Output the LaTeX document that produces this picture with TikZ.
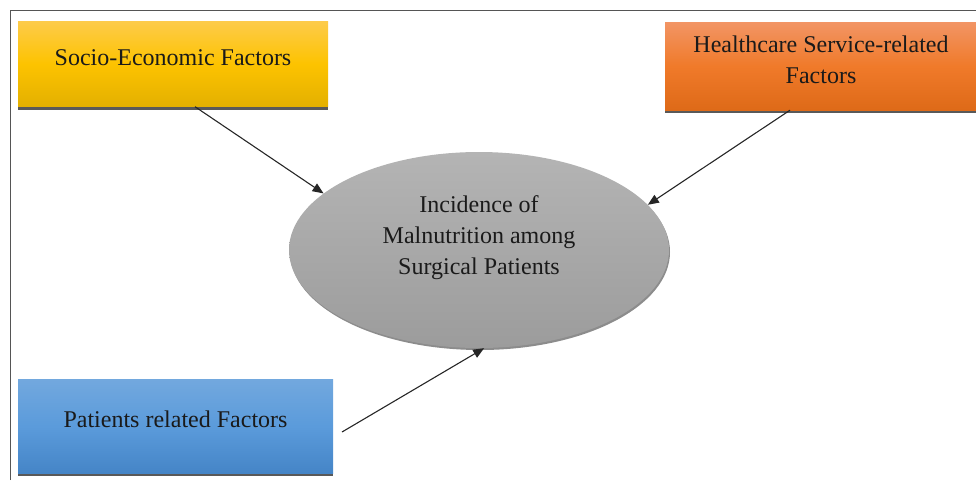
\documentclass[tikz,border=0pt]{standalone}
\usepackage{fontspec}
\setmainfont{Liberation Serif}
\usetikzlibrary{shadows,arrows.meta,shapes.geometric}
\definecolor{ytop}{HTML}{FDCB4A}
\definecolor{ymid}{HTML}{FDC300}
\definecolor{ybot}{HTML}{E3B000}
\definecolor{otop}{HTML}{F29565}
\definecolor{omid}{HTML}{F07A2A}
\definecolor{obot}{HTML}{DE6A18}
\definecolor{btop}{HTML}{72A8DE}
\definecolor{bmid}{HTML}{5B9BDB}
\definecolor{bbot}{HTML}{4585C7}
\definecolor{etop}{HTML}{B4B4B4}
\definecolor{ebot}{HTML}{9C9C9C}
\definecolor{txt}{HTML}{1A1A1A}
\definecolor{frame}{HTML}{555555}
\begin{document}
\begin{tikzpicture}[x=1pt,y=-1pt,
  box/.style={rectangle, inner sep=0pt, align=center, text=txt,
    font=\fontsize{24}{31}\selectfont, text depth=13pt,
    drop shadow={shadow xshift=0pt, shadow yshift=-3pt, fill=black!65, opacity=1}},
  conn/.style={draw=black!85, line width=1.1pt, -{Triangle[length=11pt,width=9pt]}}]
\useasboundingbox (0,0) rectangle (976,480);
\draw[frame, line width=1pt] (10,480) -- (10,10) -- (976,10);
\node[box, minimum width=310pt, minimum height=85pt,
  top color=ytop, bottom color=ybot, middle color=ymid] (soc) at (173,64) {Socio-Economic Factors};
\node[box, minimum width=312pt, minimum height=88pt,
  top color=otop, bottom color=obot, middle color=omid] (hc) at (821,66) {Healthcare Service-related\\Factors};
\node[box, minimum width=315pt, minimum height=94pt,
  top color=btop, bottom color=bbot, middle color=bmid] (pat) at (175.5,426) {Patients related Factors};
\node[ellipse, inner sep=0pt, minimum width=380pt, minimum height=196pt, align=center, text=txt,
  font=\fontsize{24}{31}\selectfont, text depth=30pt, top color=etop, bottom color=ebot,
  drop shadow={shadow xshift=1pt, shadow yshift=-2pt, fill=black!45, opacity=1}] (ell) at (479,250)
  {Incidence of\\Malnutrition among\\Surgical Patients};
\coordinate (pstart) at (342,432);
\draw[conn] ([xshift=22pt]soc.south) -- (ell.160);
\draw[conn] ([xshift=-31pt]hc.south) -- (ell.15);
\draw[conn] (pstart) -- (ell.-87);
\end{tikzpicture}
\end{document}
